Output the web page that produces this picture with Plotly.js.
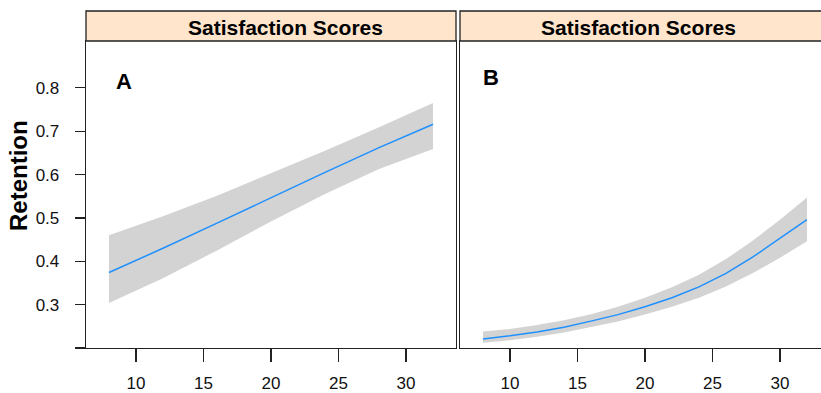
<!DOCTYPE html>
<html><head><meta charset="utf-8">
<script src="https://cdn.plot.ly/plotly-3.0.1.min.js"></script>
<style>body{margin:0;background:#fff}</style>
</head><body><div id="chart" style="width:821px;height:393px"></div>
<script>
const stripLabel = "Satisfaction Scores";
const panelLabels = ["A", "B"];
const yTitle = "Retention";

const xA = [8, 12, 16, 20, 24, 28, 32];
const fitA = [0.374, 0.430, 0.488, 0.547, 0.605, 0.662, 0.716];
const upperA = [0.460, 0.504, 0.551, 0.603, 0.655, 0.709, 0.765];
const lowerA = [0.304, 0.361, 0.425, 0.492, 0.555, 0.613, 0.659];

const xB = [8, 10, 12, 14, 16, 18, 20, 22, 24, 26, 28, 30, 32];
const fitB = [0.221, 0.228, 0.237, 0.248, 0.262, 0.277, 0.295, 0.316, 0.341, 0.372, 0.410, 0.453, 0.496];
const upperB = [0.238, 0.244, 0.253, 0.264, 0.278, 0.295, 0.316, 0.340, 0.369, 0.405, 0.448, 0.496, 0.547];
const lowerB = [0.212, 0.218, 0.226, 0.236, 0.248, 0.261, 0.277, 0.295, 0.316, 0.342, 0.373, 0.408, 0.446];

const yTickVals = [0.2, 0.3, 0.4, 0.5, 0.6, 0.7, 0.8];
const yTickText = ["", "0.3", "0.4", "0.5", "0.6", "0.7", "0.8"];
const xTickVals = [10, 15, 20, 25, 30];

const W = 821, H = 393;
const px = v => v / W;
const py = v => 1 - v / H;

const FONT = "'Liberation Sans', Arial, sans-serif";
const BAND = "#D3D3D3";
const LINE = "#1E90FF";

function band(x, up, lo, xa, ya) {
  return {
    x: x.concat(x.slice().reverse()),
    y: up.concat(lo.slice().reverse()),
    xaxis: xa, yaxis: ya,
    type: "scatter", mode: "lines", fill: "toself",
    fillcolor: BAND, line: {width: 0, color: BAND},
    hoverinfo: "skip", showlegend: false
  };
}
function fit(x, y, xa, ya) {
  return {x: x, y: y, xaxis: xa, yaxis: ya, type: "scatter", mode: "lines",
    line: {color: LINE, width: 1.5}, showlegend: false};
}

const data = [
  band(xA, upperA, lowerA, "x", "y"),
  fit(xA, fitA, "x", "y"),
  band(xB, upperB, lowerB, "x2", "y2"),
  fit(xB, fitB, "x2", "y2")
];

const yDom = [py(348), py(41)];
const axisCommon = {
  showgrid: false, zeroline: false, showline: true, mirror: true,
  linecolor: "#222", linewidth: 1.3, ticks: "outside", tickcolor: "#222",
  tickwidth: 1.3, tickfont: {family: FONT, size: 17, color: "#111"}
};

const layout = {
  width: W, height: H,
  margin: {l: 0, r: 0, t: 0, b: 0},
  paper_bgcolor: "#fff", plot_bgcolor: "#fff",
  xaxis: Object.assign({}, axisCommon, {
    domain: [px(86), px(456)], range: [6.3, 33.7], anchor: "y",
    tickvals: xTickVals, ticklen: 13, ticklabelstandoff: 6
  }),
  xaxis2: Object.assign({}, axisCommon, {
    domain: [px(460), 1], range: [6.3, 33.04], anchor: "y2",
    tickvals: xTickVals, ticklen: 13, ticklabelstandoff: 6
  }),
  yaxis: Object.assign({}, axisCommon, {
    domain: yDom, range: [0.2, 0.908], anchor: "x",
    tickvals: yTickVals, ticktext: yTickText, ticklen: 10, ticklabelstandoff: 12
  }),
  yaxis2: Object.assign({}, axisCommon, {
    domain: yDom, range: [0.2, 0.908], anchor: "x2",
    showticklabels: false, ticks: ""
  }),
  shapes: [
    {type: "rect", xref: "paper", yref: "paper", x0: px(86), x1: px(456), y0: py(41), y1: py(11),
     fillcolor: "#FFE5CC", line: {color: "#222", width: 1.3}},
    {type: "rect", xref: "paper", yref: "paper", x0: px(460), x1: px(824), y0: py(41), y1: py(11),
     fillcolor: "#FFE5CC", line: {color: "#222", width: 1.3}}
  ],
  annotations: [
    {xref: "paper", yref: "paper", x: px(285), y: py(27), text: "<b>" + stripLabel + "</b>",
     showarrow: false, xanchor: "center", yanchor: "middle", font: {family: FONT, size: 21, color: "#000"}},
    {xref: "paper", yref: "paper", x: px(638), y: py(27), text: "<b>" + stripLabel + "</b>",
     showarrow: false, xanchor: "center", yanchor: "middle", font: {family: FONT, size: 21, color: "#000"}},
    {xref: "paper", yref: "paper", x: px(124), y: py(82), text: "<b>" + panelLabels[0] + "</b>",
     showarrow: false, xanchor: "center", yanchor: "middle", font: {family: FONT, size: 22, color: "#000"}},
    {xref: "paper", yref: "paper", x: px(491), y: py(77), text: "<b>" + panelLabels[1] + "</b>",
     showarrow: false, xanchor: "center", yanchor: "middle", font: {family: FONT, size: 22, color: "#000"}},
    {xref: "paper", yref: "paper", x: px(18), y: py(176), text: "<b>" + yTitle + "</b>", textangle: -90,
     showarrow: false, xanchor: "center", yanchor: "middle", font: {family: FONT, size: 24, color: "#000"}}
  ]
};

Plotly.newPlot("chart", data, layout, {displayModeBar: false, staticPlot: true});
</script>
</body></html>
